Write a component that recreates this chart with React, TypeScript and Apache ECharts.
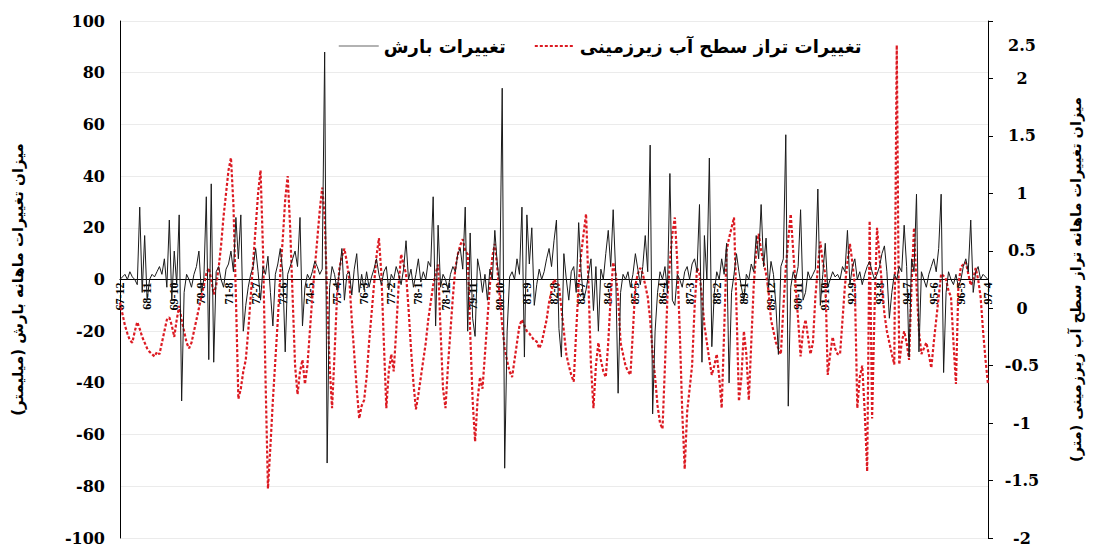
import React, { useEffect, useRef } from "react";
import * as echarts from "echarts";

// Monthly series from 67-12 to 97-4 (Persian calendar), 353 months
const START_YEAR = 67;
const START_MONTH = 12;

// Monthly precipitation change (mm) - left axis
const precipitation: number[] = [
  0, 1, 2, 0, 3, 1, 0, -2, 28, -5,
  17, -8, 0, 2, 1, 3, 5, 2, 8, -3,
  23, -8, 11, -2, 25, -47, -5, 2, 0, -3,
  2, 5, 11, -5, 0, 32, -31, 37, -32, 3,
  5, 0, -3, 4, 6, 11, 3, 24, 8, 25,
  -20, -10, -3, 2, 5, 12, 3, -8, 5, 2,
  9, -5, -18, 2, 6, 12, 3, -28, 2, 5,
  8, 11, 5, 24, -18, -3, 2, 0, 3, 7,
  5, 2, 4, 88, -71, -3, 5, 2, -4, 3,
  12, -8, 2, 3, -6, 4, 10, -5, 2, -4,
  3, -3, 1, 4, 8, 2, -2, 3, 5, -4,
  2, 0, 5, 2, -2, 4, 15, 0, 4, -3,
  2, 8, -1, 3, 0, 7, 5, 32, -18, 21,
  -3, 2, 0, -4, 2, 5, 3, 10, 12, 4,
  28, -20, 18, -15, -22, 8, 3, -5, 2, -8,
  4, 0, 19, 6, -2, 74, -73, -20, 1, 3,
  0, 8, 2, 28, -30, 25, 6, 20, -10, -2,
  4, 0, 3, 8, 12, 5, 15, 23, -19, -30,
  10, 0, -8, 3, 5, -5, 22, 3, -8, -4,
  2, 8, -12, 5, -20, 4, 0, 10, 19, 5,
  27, 3, -44, -5, 2, 0, 3, -3, 2, 10,
  4, -2, 5, 17, 3, 52, -52, -20, -5, 3,
  0, 5, -5, 41, -8, -10, 2, 0, -3, 3,
  5, 0, 6, 8, 3, 29, -32, 17, 0, 47,
  -26, -5, 3, 0, 8, 2, 14, -40, -5, 2,
  10, 3, -3, -8, 2, 0, 6, 3, 17, 8,
  29, 5, 16, -3, 7, 2, -10, -29, 5, 8,
  56, -49, -3, 3, 0, 5, 27, -8, -5, 3,
  0, 2, 4, 35, -10, 2, 14, -3, 0, 3,
  1, 2, 0, 5, 3, 19, -2, 5, 8, 0,
  3, -2, 2, 5, 7, 3, 0, 2, 5, 10,
  13, 3, -15, -5, 2, 0, 5, 3, 21, 5,
  -30, 8, 3, 33, -28, 3, 0, -3, 2, 5,
  8, 3, 12, 33, -36, -5, 3, 0, -2, 2,
  -3, 0, 5, 8, 3, 23, -5, 3, 5, 0,
  2, 1, 0,
];

// Monthly groundwater level change (m) - right axis
const groundwater: number[] = [
  0.05, -0.05, -0.15, -0.22, -0.28, -0.3, -0.2, -0.12, -0.18, -0.25,
  -0.3, -0.35, -0.38, -0.4, -0.42, -0.38, -0.4, -0.3, -0.2, -0.1,
  -0.08, -0.15, -0.25, -0.1, 0.02, -0.1, -0.2, -0.3, -0.35, -0.3,
  -0.2, -0.1, 0.0, 0.1, 0.2, 0.3, 0.35, 0.25, 0.12, 0.2,
  0.35, 0.55, 0.8, 1.0, 1.2, 1.31, 0.9, 0.1, -0.79, -0.7,
  -0.55, -0.45, -0.2, 0.1, 0.4, 0.7, 1.0, 1.2, 0.5, -0.6,
  -1.57, -1.2, -0.8, -0.45, -0.1, 0.3, 0.6, 0.95, 1.15, 0.7,
  0.1, -0.5, -0.75, -0.55, -0.45, -0.66, -0.5, -0.2, 0.1, 0.35,
  0.6, 0.85, 1.05, 0.8, 0.1, -0.5, -0.87, -0.4, 0.1, 0.35,
  0.45, 0.52, 0.4, 0.25, -0.1, -0.4, -0.7, -0.96, -0.85, -0.8,
  -0.6, -0.3, -0.05, 0.2, 0.45, 0.61, 0.3, -0.3, -0.87, -0.55,
  -0.4, -0.55, -0.2, 0.2, 0.47, 0.38, 0.3, 0.0, -0.35, -0.65,
  -0.88, -0.75, -0.6, -0.45, -0.3, -0.1, 0.05, 0.2, 0.3, 0.38,
  -0.2, -0.7, -0.87, -0.5, -0.2, 0.1, 0.35, 0.47, 0.55, 0.6,
  0.5, 0.47, -0.2, -0.8, -1.16, -0.8, -0.6, -0.7, -0.4, -0.1,
  0.2, 0.45, 0.56, 0.35, 0.1, -0.15, -0.35, -0.46, -0.55, -0.6,
  -0.45, -0.3, -0.15, -0.1, -0.15, -0.2, -0.22, -0.25, -0.28, -0.29,
  -0.35, -0.3, -0.2, -0.1, 0.05, 0.15, 0.25, 0.22, 0.2, 0.0,
  -0.2, -0.4, -0.5, -0.58, -0.64, -0.2, 0.2, 0.47, 0.65, 0.82,
  0.2, -0.5, -0.87, -0.5, -0.3, -0.45, -0.55, -0.6, -0.3, 0.1,
  0.4, 0.3, 0.1, -0.3, -0.4, -0.5, -0.55, -0.58, -0.2, 0.2,
  0.3, 0.35, 0.3, 0.2, 0.1, -0.1, -0.4, -0.6, -0.85, -1.0,
  -1.05, -0.5, 0.1, 0.4, 0.65, 0.79, 0.4, -0.2, -0.9, -1.4,
  -0.9, -0.7, -0.5, 0.0, 0.35, 0.3, 0.1, -0.15, -0.3, -0.45,
  -0.58, -0.5, -0.4, -0.6, -0.87, -0.2, 0.5, 0.61, 0.7, 0.79,
  0.0, -0.81, -0.6, -0.2, -0.4, -0.8, -0.3, 0.2, 0.5, 0.65,
  0.5, 0.4, 0.3, 0.15, -0.1, -0.2, -0.3, -0.35, -0.4, 0.0,
  0.35, 0.6, 0.82, 0.5, 0.2, -0.1, -0.42, -0.2, -0.1, -0.25,
  -0.4, -0.3, 0.1, 0.35, 0.58, 0.4, 0.3, -0.58, -0.4, -0.25,
  -0.35, -0.4, -0.4, -0.1, 0.2, 0.4, 0.56, 0.4, 0.2, -0.87,
  -0.6, -0.5, -0.9, -1.42, 0.76, -0.96, 0.0, 0.7, 0.45, 0.2,
  -0.05, -0.2, -0.3, -0.4, -0.49, 2.29, -0.49, -0.3, -0.2, -0.3,
  -0.45, 0.2, 0.7, 0.2, -0.2, -0.4, -0.35, -0.3, -0.4, -0.52,
  -0.3, -0.1, 0.1, 0.3, 0.28, 0.25, 0.15, 0.1, -0.3, -0.66,
  0.2, 0.36, 0.38, 0.4, 0.3, 0.2, 0.25, 0.35, 0.25, 0.1,
  -0.2, -0.45, -0.66,
];

const LEFT_TICKS = { min: -100, max: 100, interval: 20 };
const RIGHT_TICKS = { min: -2, max: 2.5, interval: 0.5 };

const SERIES_PRECIP = "تغییرات بارش";
const SERIES_GROUND = "تغییرات تراز سطح آب زیرزمینی";
const LEFT_TITLE = "میزان تغییرات ماهانه بارش (میلیمتر)";
const RIGHT_TITLE = "میزان تغییرات ماهانه تراز سطح آب زیرزمینی (متر)";

function buildCategories(n: number): string[] {
  const out: string[] = [];
  for (let i = 0; i < n; i++) {
    const k = START_MONTH - 1 + i;
    const m = (k % 12) + 1;
    const y = START_YEAR + Math.floor(k / 12);
    out.push(`${y}-${m}`);
  }
  return out;
}

const categories = buildCategories(precipitation.length);

const GRID_TOP = 21;
const GRID_BOTTOM = 8;
const CHART_H = 546;
const PLOT_H = CHART_H - GRID_TOP - GRID_BOTTOM;
// distance from bottom of plot to the left axis zero
const ZERO_OFFSET =
  (PLOT_H * (0 - LEFT_TICKS.min)) / (LEFT_TICKS.max - LEFT_TICKS.min);

export default function App() {
  const ref = useRef<HTMLDivElement>(null);
  useEffect(() => {
    if (!ref.current) return;
    const chart = echarts.init(ref.current, undefined, { renderer: "svg" });
    const numFont = "DejaVu Serif";
    const faFont = "DejaVu Sans";
    chart.setOption({
      animation: false,
      backgroundColor: "#ffffff",
      grid: { left: 120, right: 109, top: GRID_TOP, bottom: GRID_BOTTOM, containLabel: false },
      legend: {
        top: 32,
        left: 333,
        itemGap: 28,
        itemWidth: 40,
        itemHeight: 10,
        itemStyle: { opacity: 0 },
        textStyle: { fontFamily: faFont, fontWeight: "bold", fontSize: 18, color: "#000" },
        data: [
          { name: SERIES_PRECIP, lineStyle: { color: "#999", width: 1.5 } },
          { name: SERIES_GROUND },
        ],
      },
      xAxis: {
        type: "category",
        data: categories,
        boundaryGap: false,
        position: "bottom",
        offset: -ZERO_OFFSET,
        axisLine: { onZero: false, lineStyle: { color: "#000", width: 1 } },
        axisTick: { show: false },
        axisLabel: {
          interval: 10,
          rotate: 90,
          fontSize: 12,
          fontWeight: "bold",
          color: "#000",
          margin: 3,
          fontFamily: "Liberation Serif",
        },
        splitLine: { show: false },
      },
      yAxis: [
        {
          type: "value",
          min: LEFT_TICKS.min,
          max: LEFT_TICKS.max,
          interval: LEFT_TICKS.interval,
          position: "left",
          axisLine: { show: true, onZero: false, lineStyle: { color: "#000", width: 1 } },
          axisTick: { show: false },
          axisLabel: {
            fontFamily: numFont,
            fontWeight: "bold",
            fontSize: 16,
            color: "#000",
            margin: 15,
          },
          splitLine: { show: true, lineStyle: { color: "#ebebeb", width: 1 } },
          name: LEFT_TITLE,
          nameLocation: "middle",
          nameRotate: 90,
          nameGap: 95,
          nameTextStyle: { fontFamily: faFont, fontWeight: "bold", fontSize: 15, color: "#000" },
        },
        {
          type: "value",
          min: RIGHT_TICKS.min,
          max: RIGHT_TICKS.max,
          interval: RIGHT_TICKS.interval,
          position: "right",
          axisLine: { show: true, onZero: false, lineStyle: { color: "#000", width: 1 } },
          axisTick: { show: true, length: 5, lineStyle: { color: "#000" } },
          axisLabel: {
            fontFamily: numFont,
            fontWeight: "bold",
            fontSize: 16,
            color: "#000",
            margin: 34,
            align: "center",
            formatter: (v: number) =>
              v === RIGHT_TICKS.max ? `{top|${v}}` : `{n|${v}}`,
            rich: {
              top: { fontFamily: numFont, fontWeight: "bold", fontSize: 16, padding: [48, 0, 0, 0] },
              n: { fontFamily: numFont, fontWeight: "bold", fontSize: 16 },
            },
          },
          splitLine: { show: false },
          name: RIGHT_TITLE,
          nameLocation: "middle",
          nameRotate: 90,
          nameGap: 80,
          nameTextStyle: { fontFamily: faFont, fontWeight: "bold", fontSize: 14.5, color: "#000" },
        },
      ],
      series: [
        {
          name: SERIES_PRECIP,
          type: "line",
          yAxisIndex: 0,
          data: precipitation,
          symbol: "none",
          lineStyle: { color: "#1a1a1a", width: 1 },
          itemStyle: { color: "#999" },
          z: 3,
        },
        {
          name: SERIES_GROUND,
          type: "line",
          yAxisIndex: 1,
          data: groundwater,
          symbol: "none",
          lineStyle: { color: "#dc1a22", width: 2.2, type: [3, 2] },
          itemStyle: { color: "#dc1a22" },
          z: 2,
        },
      ],
    });
    return () => chart.dispose();
  }, []);
  return (
    <div
      ref={ref}
      style={{ position: "absolute", left: 0, top: 0, width: 1097, height: CHART_H }}
    />
  );
}
